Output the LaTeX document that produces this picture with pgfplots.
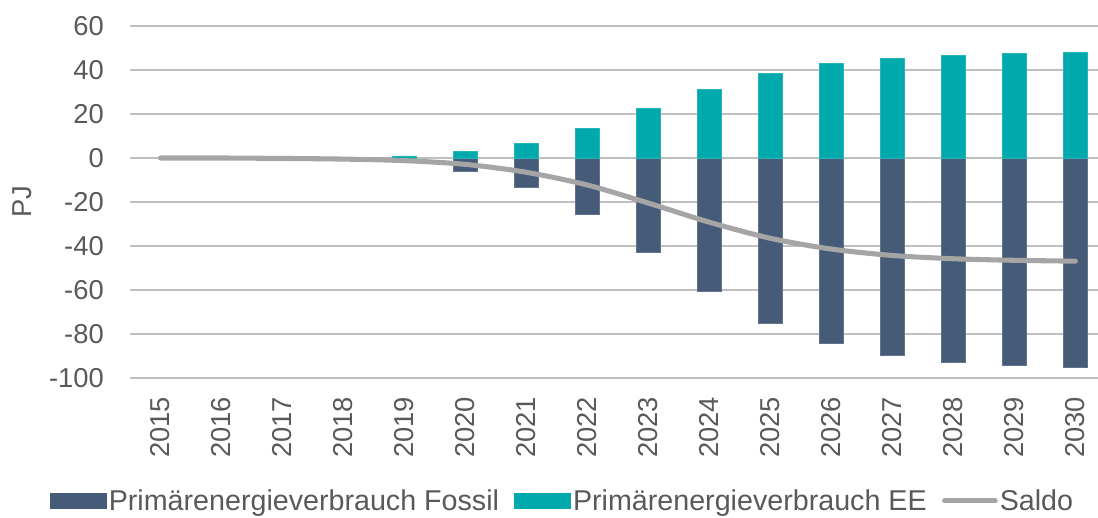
\documentclass[border=0pt]{standalone}
\usepackage{fontspec}
\setmainfont{Liberation Sans}
\usepackage{pgfplots}
\pgfplotsset{compat=1.18}
\definecolor{fossil}{HTML}{465B78}
\definecolor{ee}{HTML}{00A9AC}
\definecolor{saldo}{HTML}{A5A5A5}
\definecolor{txt}{HTML}{595959}
\definecolor{grid}{HTML}{D9D9D9}
\begin{document}
\begin{tikzpicture}
\useasboundingbox (-97.5pt,-104.25pt) rectangle (726pt,283.5pt);
\begin{axis}[
  at={(0,0)}, anchor=south west,
  scale only axis, width=726pt, height=264pt,
  xmin=-0.5, xmax=15.37, ymin=-100, ymax=60,
  axis line style={draw=none},
  xmajorgrids=false, ymajorgrids=true, grid style={grid, line width=1.1pt},
  tick style={draw=none},
  ytick={-100,-80,...,60},
  xtick={0,...,15},
  xticklabels={2015,2016,2017,2018,2019,2020,2021,2022,2023,2024,2025,2026,2027,2028,2029,2030},
  major tick length=0pt,
  font=\fontsize{20.5}{24}\selectfont,
  /pgf/number format/assume math mode=true,
  ticklabel style={text=txt},
  yticklabel style={anchor=east, inner sep=0pt, xshift=-19.5pt},
  xticklabel style={rotate=90, anchor=east, inner ysep=0pt, inner xsep=14pt},
  ylabel={PJ}, ylabel style={at={(axis description cs:-0.1116,0.5)}, anchor=center, rotate=0, text=txt},
  legend columns=3,
  legend style={draw=none, fill=none, at={(0.447,-0.349)}, anchor=center,
    font=\fontsize{21.5}{24}\selectfont, text=txt,
    /tikz/every even column/.append style={column sep=10pt},
    nodes={inner sep=1.5pt}},
]
\addplot[ybar, bar width=18.2pt, bar shift=0pt, fill=fossil, draw=fossil!85!white, line width=0.4pt,
  legend image code/.code={\fill[fossil] (0pt,-5.5pt) rectangle (42pt,5.5pt);}]
  coordinates {(4,-2.0) (5,-6.0) (6,-13.3) (7,-25.7) (8,-43.0) (9,-60.4) (10,-75.0) (11,-84.3) (12,-89.7) (13,-92.7) (14,-94.2) (15,-95.0)};
\addlegendentry{Primärenergieverbrauch Fossil}
\addplot[ybar, bar width=18.2pt, bar shift=0pt, fill=ee, draw=ee!85!white, line width=0.4pt,
  legend image code/.code={\fill[ee] (0pt,-5.5pt) rectangle (42pt,5.5pt);}]
  coordinates {(4,1.0) (5,2.9) (6,6.8) (7,13.4) (8,22.5) (9,31.2) (10,38.4) (11,42.9) (12,45.4) (13,46.7) (14,47.5) (15,47.9)};
\addlegendentry{Primärenergieverbrauch EE}
\addplot[saldo, line width=3.8pt, line cap=round, smooth, mark=none,
  legend image code/.code={\draw[saldo, line width=3.8pt, line cap=round] (2pt,0pt) -- (40pt,0pt);}]
  coordinates {(0,0) (1,0) (2,-0.2) (3,-0.5) (4,-1.2) (5,-2.9) (6,-6.5) (7,-12.3) (8,-20.5) (9,-29.2) (10,-36.5) (11,-41.4) (12,-44.3) (13,-45.8) (14,-46.5) (15,-46.9)};
\addlegendentry{Saldo}
\end{axis}
\end{tikzpicture}
\end{document}
